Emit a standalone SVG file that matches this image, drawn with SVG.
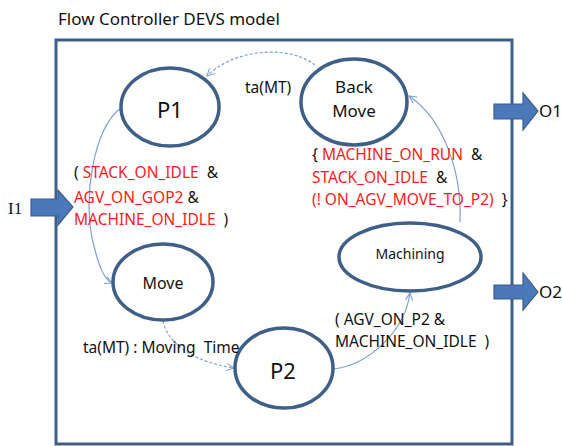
<svg xmlns="http://www.w3.org/2000/svg" width="562" height="446" viewBox="0 0 562 446">
<defs>
<style>
text{font-family:"Noto Sans","Liberation Sans",sans-serif;fill:#111;white-space:pre}
.st{fill:#fff;stroke:#3e5f88;stroke-width:3.5}
.c{fill:none;stroke:#7aa2d6;stroke-width:1.2}
.d{stroke-dasharray:3 2}
.r{fill:#ff1a1a}
.port{fill:#4a78b8;stroke:#3b5f8f;stroke-width:1.2}
.lbl{font-size:15.5px}
</style>
<marker id="ah" viewBox="0 0 10 10" refX="9" refY="5" markerWidth="9" markerHeight="9" orient="auto" markerUnits="userSpaceOnUse">
<path d="M1,1 L9,5 L1,9" fill="none" stroke="#7aa2d6" stroke-width="1.2"/>
</marker>
</defs>
<rect width="562" height="446" fill="#fff"/>
<text x="58" y="25" font-size="17">Flow Controller DEVS model</text>
<rect x="56" y="40" width="456" height="404" fill="none" stroke="#3e5f88" stroke-width="3"/>
<g id="ports">
<g id="I1"><text x="8" y="214" font-size="17" style="font-family:'Liberation Serif',serif">I1</text>
<path class="port" d="M31,199 H58 V190 L73,207 L58,225 V216 H31 Z"/></g>
<g id="O1"><path class="port" d="M494,104 H523 V93 L538,111 L523,130 V119 H494 Z"/>
<text x="539" y="117" font-size="17">O1</text></g>
<g id="O2"><path class="port" d="M494,285 H523 V273 L538,292 L523,310 V299 H494 Z"/>
<text x="539" y="298" font-size="17">O2</text></g>
</g>
<g id="connectors">
<path class="c" d="M121,108 C95,125 80,200 95,250 C100,270 105,280 112,283" marker-end="url(#ah)"/>
<path class="c d" d="M163,321 C168,345 195,362 234,368" marker-end="url(#ah)"/>
<path class="c" d="M333,369 C370,365 405,330 410,293" marker-end="url(#ah)"/>
<path class="c" d="M460,222 C462,175 445,120 409,96" marker-end="url(#ah)"/>
<path class="c d" d="M315,65 C290,45 235,48 207,76" marker-end="url(#ah)"/>
</g>
<g id="P1"><ellipse class="st" cx="170" cy="107" rx="49" ry="39"/><text x="170" y="118" font-size="22" text-anchor="middle">P1</text></g>
<g id="BackMove"><ellipse class="st" cx="354" cy="102" rx="53" ry="43"/>
<text x="354" y="93" font-size="17" text-anchor="middle">Back</text><text x="354" y="117" font-size="17" text-anchor="middle">Move</text></g>
<g id="Move"><ellipse class="st" cx="163" cy="282" rx="50" ry="38"/><text x="163" y="289" font-size="16" text-anchor="middle">Move</text></g>
<g id="P2"><ellipse class="st" cx="284" cy="368" rx="49" ry="40"/><text x="283" y="379" font-size="22" text-anchor="middle">P2</text></g>
<g id="Machining"><ellipse class="st" cx="410" cy="257" rx="71" ry="34"/><text x="410" y="259" font-size="14" text-anchor="middle">Machining</text></g>
<g id="labels">
<text x="245" y="93" class="lbl">ta(MT)</text>
<text x="74" y="178" class="lbl">( <tspan class="r">STACK_ON_IDLE</tspan>  &amp;</text>
<text x="74" y="203" class="lbl"><tspan class="r">AGV_ON_GOP2</tspan> &amp;</text>
<text x="74" y="225" class="lbl"><tspan class="r">MACHINE_ON_IDLE</tspan>  )</text>
<text x="312" y="160" class="lbl">{ <tspan class="r">MACHINE_ON_RUN</tspan>  &amp;</text>
<text x="312" y="183" class="lbl"><tspan class="r">STACK_ON_IDLE</tspan>  &amp;</text>
<text x="312" y="205" class="lbl"><tspan class="r">(! ON_AGV_MOVE_TO_P2)</tspan>  }</text>
<text x="335" y="325" class="lbl">( AGV_ON_P2 &amp;</text>
<text x="335" y="347" class="lbl">MACHINE_ON_IDLE  )</text>
<text x="83" y="353" class="lbl">ta(MT) : Moving  Time</text>
</g>
</svg>
